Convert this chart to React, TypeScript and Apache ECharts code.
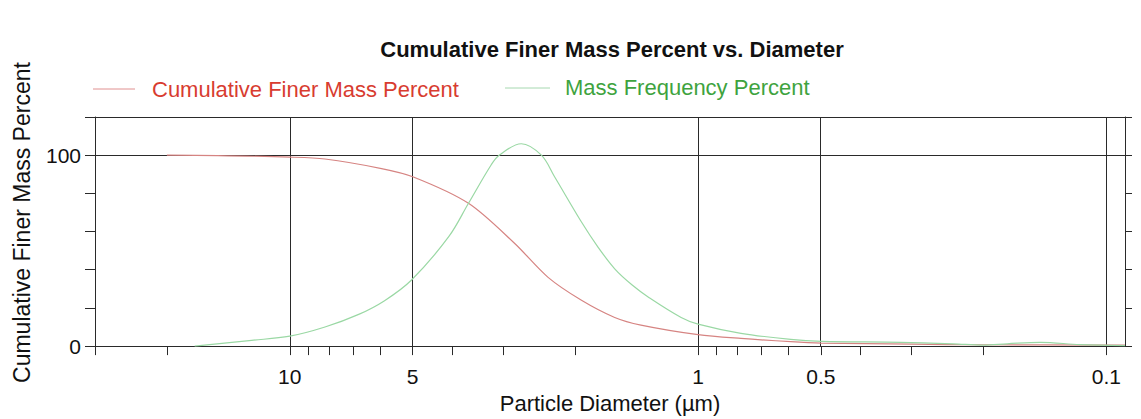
import React, { useEffect, useRef } from "react";
import * as echarts from "echarts";

// Particle diameters (µm) and values
const cumDiam = [20, 15, 10, 8.2, 5.96, 4.98, 3.65, 2.82, 2.33, 1.93, 1.6, 1.38, 1.0, 0.785, 0.593, 0.5, 0.3, 0.2, 0.09];
const cumVals = [100, 99.8, 99, 98, 93, 88.6, 74.8, 54, 36, 24, 15, 11, 6, 4, 2.3, 1.6, 1, 0.7, 0.5];

const freqDiam = [17.1, 12.4, 10, 8.2, 6.78, 5.86, 5.04, 4.08, 3.65, 3.21, 3.07, 2.71, 2.42, 2.25, 1.93, 1.76, 1.6, 1.45, 1.32, 1.1, 1.0, 0.785, 0.593, 0.498, 0.319, 0.237, 0.2, 0.175, 0.145, 0.116, 0.09];
const freqVals = [0, 3, 5.2, 10, 16.6, 23.8, 34.5, 57.3, 74.8, 95, 100, 106, 100, 89, 65, 52, 40.5, 32, 25.5, 15, 11.5, 6.7, 3.5, 2.5, 2, 1.2, 0.5, 1.2, 2, 0.8, 0.3];

const xLabelValues = [10, 5, 1, 0.5, 0.1];
const xTickValues = [30, 20, 10, 9, 8, 7, 6, 5, 4, 3, 2, 1, 0.9, 0.8, 0.7, 0.6, 0.5, 0.4, 0.3, 0.2, 0.1];
const yLabelValues = [0, 100];
const xMinDiam = 0.09;
const xMaxDiam = 30;

const titleText = "Cumulative Finer Mass Percent vs. Diameter";
const seriesNames = ["Cumulative Finer Mass Percent", "Mass Frequency Percent"];

const SANS = '"Liberation Sans", Arial, sans-serif';

export default function App() {
  const ref = useRef<HTMLDivElement>(null);
  useEffect(() => {
    if (!ref.current) return;
    const chart = echarts.init(ref.current, undefined, { renderer: "svg" });
    const lg = (d: number) => Math.log10(d);
    const fmt = (v: number) => String(parseFloat(Math.pow(10, v).toPrecision(3)));
    const axisColor = "#2a2a2a";
    const redLine = "#d68482";
    const greenLine = "#9ad8a4";
    chart.setOption({
      animation: false,
      backgroundColor: "#ffffff",
      title: {
        text: titleText,
        left: 607,
        textAlign: "center",
        top: 33,
        textStyle: { fontFamily: SANS, fontWeight: "bold", fontSize: 22, color: "#111" },
      },
      graphic: [
        { type: "line", shape: { x1: 93, y1: 89, x2: 135, y2: 89 }, style: { stroke: "#e09090", lineWidth: 1 } },
        { type: "text", x: 152, y: 89, style: { text: seriesNames[0], fill: "#d83c30", font: `22px ${SANS}`, verticalAlign: "middle" } },
        { type: "line", shape: { x1: 505, y1: 88, x2: 550, y2: 88 }, style: { stroke: "#a6d8b0", lineWidth: 1 } },
        { type: "text", x: 565, y: 87, style: { text: seriesNames[1], fill: "#3ea33e", font: `22px ${SANS}`, verticalAlign: "middle" } },
      ],
      grid: { left: 95, right: 16, top: 117, bottom: 70, show: false },
      xAxis: [
        {
          type: "value",
          min: lg(xMinDiam),
          max: lg(xMaxDiam),
          inverse: true,
          position: "bottom",
          name: "Particle Diameter (µm)",
          nameLocation: "middle",
          nameGap: 38,
          nameTextStyle: { fontFamily: SANS, fontSize: 22, color: "#111" },
          axisLine: { show: true, onZero: false, lineStyle: { color: axisColor, width: 1 } },
          axisTick: { show: true, inside: false, length: 9, customValues: xTickValues.map(lg), lineStyle: { color: axisColor } },
          axisLabel: { show: true, margin: 20, customValues: xLabelValues.map(lg), formatter: fmt, fontFamily: SANS, fontSize: 21, color: "#111" },
          splitLine: { show: false },
        },
        {
          type: "value",
          min: lg(xMinDiam),
          max: lg(xMaxDiam),
          inverse: true,
          position: "top",
          axisLine: { show: true, onZero: false, lineStyle: { color: axisColor, width: 1 } },
          axisTick: { show: false },
          axisLabel: { show: false },
          splitLine: { show: false },
        },
      ],
      yAxis: [
        {
          type: "value",
          min: 0,
          max: 120,
          interval: 20,
          position: "left",
          name: "Cumulative Finer Mass Percent",
          nameLocation: "middle",
          nameGap: 62,
          nameTextStyle: { fontFamily: SANS, fontSize: 23, color: "#111", padding: [0, 0, 0, 18] },
          axisLine: { show: true, onZero: false, lineStyle: { color: axisColor, width: 1 } },
          axisTick: { show: true, inside: false, length: 10, lineStyle: { color: axisColor } },
          axisLabel: { show: true, margin: 14, customValues: yLabelValues, fontFamily: SANS, fontSize: 21, color: "#111" },
          splitLine: { show: false },
        },
        {
          type: "value",
          min: 0,
          max: 120,
          interval: 20,
          position: "right",
          axisLine: { show: true, onZero: false, lineStyle: { color: axisColor, width: 1 } },
          axisTick: { show: true, inside: false, length: 7, lineStyle: { color: axisColor } },
          axisLabel: { show: false },
          splitLine: { show: false },
        },
      ],
      series: [
        {
          name: seriesNames[0],
          type: "line",
          xAxisIndex: 0,
          yAxisIndex: 0,
          smooth: 0.3,
          symbol: "none",
          lineStyle: { color: redLine, width: 1.2 },
          data: cumDiam.map((d, i) => [lg(d), cumVals[i]]),
          z: 3,
          markLine: {
            silent: true,
            symbol: ["none", "none"],
            label: { show: false },
            lineStyle: { color: axisColor, width: 1, type: "solid" },
            data: [
              ...xLabelValues.map((d) => ({ xAxis: lg(d) })),
              { yAxis: 100 },
            ],
            z: 1,
          },
        },
        {
          name: seriesNames[1],
          type: "line",
          xAxisIndex: 0,
          yAxisIndex: 0,
          smooth: 0.35,
          symbol: "none",
          lineStyle: { color: greenLine, width: 1.2 },
          data: freqDiam.map((d, i) => [lg(d), freqVals[i]]),
          z: 3,
        },
      ],
    });
    return () => chart.dispose();
  }, []);
  return <div ref={ref} style={{ position: "fixed", left: 0, top: 0, width: 1141, height: 419 }} />;
}
